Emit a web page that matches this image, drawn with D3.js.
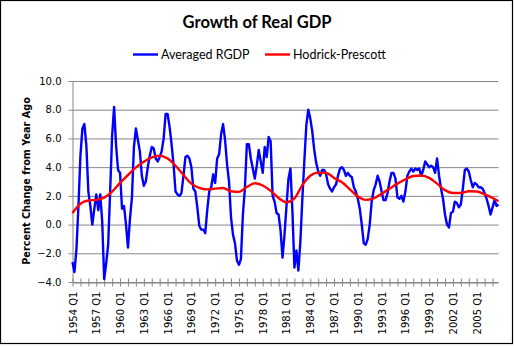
<!DOCTYPE html>
<html>
<head>
<meta charset="utf-8">
<script src="https://cdn.jsdelivr.net/npm/d3@7"></script>
<style>
  html, body { margin: 0; padding: 0; background: #fff; }
  svg { display: block; }
</style>
</head>
<body>
<div id="chart"></div>
<script>
// ----------------------------
// Data
// quarterly, 1954 Q1 .. 2007 Q4
// ----------------------------
var firstYear = 1954, lastYear = 2007;
var quarters = [];
for (var yr = firstYear; yr <= lastYear; yr++)
  for (var q = 1; q <= 4; q++) quarters.push(yr + " Q" + q);

// Averaged RGDP, percent change from year ago
var rgdp = [
  -2.6, -3.3, -1.7, 1.3, 4.8, 6.7, 7.0, 5.5,      // 1954-55
  2.3, 1.3, 0.0, 1.1, 2.1, 1.0, 2.1, 0.2,         // 1956-57
  -3.8, -2.7, -1.4, 2.3, 6.2, 8.2, 5.5, 3.8,      // 1958-59
  3.6, 1.1, 1.3, 0.0, -1.6, 0.4, 1.9, 5.4,        // 1960-61
  6.7, 5.9, 5.1, 3.4, 2.7, 3.0, 4.0, 4.8,         // 1962-63
  5.4, 5.3, 4.6, 4.4, 4.7, 5.1, 6.0, 7.7,         // 1964-65
  7.7, 6.8, 5.6, 4.2, 2.3, 2.1, 2.0, 2.2,         // 1966-67
  3.4, 4.7, 4.8, 4.6, 4.0, 2.5, 2.3, 1.2,         // 1968-69
  -0.1, -0.35, -0.35, -0.6, 1.0, 2.3, 2.6, 3.5,   // 1970-71
  2.9, 4.6, 4.9, 6.3, 7.0, 5.9, 4.2, 3.0,         // 1972-73
  0.5, -0.7, -1.3, -2.5, -2.8, -2.4, 0.7, 2.5,    // 1974-75
  5.6, 5.6, 4.6, 3.9, 3.2, 4.1, 5.2, 4.4,         // 1976-77
  3.6, 5.4, 4.7, 6.1, 5.8, 2.0, 1.6, 0.8,         // 1978-79
  0.7, -0.4, -2.3, -0.7, 1.3, 3.2, 3.9, 0.9,      // 1980-81
  -3.0, -1.8, -3.2, -1.2, 1.8, 4.4, 6.9, 8.0,     // 1982-83
  7.4, 6.5, 5.2, 4.3, 3.7, 3.4, 3.8, 3.8,         // 1984-85
  3.5, 2.8, 2.5, 2.3, 2.6, 2.8, 3.4, 3.9,         // 1986-87
  4.0, 3.8, 3.4, 3.6, 3.4, 3.3, 2.6, 2.3,         // 1988-89
  1.8, 1.1, 0.0, -1.3, -1.4, -1.0, 0.0, 1.6,      // 1990-91
  2.4, 2.8, 3.4, 3.0, 2.3, 1.7, 1.7, 2.2,         // 1992-93
  3.0, 3.6, 3.6, 3.2, 1.9, 1.8, 2.0, 1.6,         // 1994-95
  2.3, 3.4, 3.7, 3.9, 3.7, 3.9, 3.8, 3.9,         // 1996-97
  3.4, 3.8, 4.4, 4.2, 4.0, 4.1, 4.0, 3.6,         // 1998-99
  4.6, 3.4, 2.5, 1.8, 0.7, 0.0, -0.2, 0.8,        // 2000-01
  0.9, 1.6, 1.5, 1.2, 1.4, 2.5, 3.8, 3.9,         // 2002-03
  3.7, 3.1, 2.6, 2.9, 2.8, 2.6, 2.6, 2.5,         // 2004-05
  2.2, 1.8, 1.3, 0.7, 1.2, 1.7, 1.3, 1.4          // 2006-07
];

// Hodrick-Prescott trend, read at each Q1 (1954..2007) plus 2007 Q4
var hpQuarters = quarters.filter(function(d) { return d.endsWith("Q1"); }).concat(["2007 Q4"]);
var hpValues = [
  0.8, 1.45, 1.68, 1.72, 1.88, 2.3, 2.9, 3.45, 3.98, 4.38,
  4.68, 4.8, 4.6, 4.1, 3.45, 2.85, 2.55, 2.45, 2.5, 2.55,
  2.32, 2.28, 2.62, 2.88, 2.72, 2.35, 1.85, 1.55, 1.82, 2.75,
  3.4, 3.62, 3.6, 3.25, 2.95, 2.45, 1.95, 1.72, 1.82, 2.15,
  2.5, 2.85, 3.15, 3.38, 3.42, 3.25, 2.85, 2.4, 2.2, 2.2,
  2.32, 2.3, 2.1, 1.85, 1.62
];

var yTicks = [-4, -2, 0, 2, 4, 6, 8, 10];
var xLabelEvery = 12; // label every 3 years, tick every year

var seriesNames = ["Averaged RGDP", "Hodrick-Prescott"];
var seriesColors = ["#0000ff", "#ff0000"];

// ----------------------------
// Figure setup
// ----------------------------
var Vis = {};
Vis.width = 514;
Vis.height = 346;
Vis.left = 72.5;
Vis.right = 498.5;
Vis.top = 81;
Vis.bottom = 282;
Vis.gridColor = "#868686";

Vis.svg = d3.select("#chart").append("svg")
  .attr("width", Vis.width)
  .attr("height", Vis.height);

Vis.svg.append("rect")
  .attr("x", 0.5).attr("y", 0.5)
  .attr("width", 512).attr("height", 343)
  .attr("fill", "#fff")
  .attr("stroke", "#000")
  .attr("stroke-width", 1.2);

Vis.x = d3.scalePoint().domain(quarters).range([Vis.left, Vis.right]);
Vis.y = d3.scaleLinear().domain([-4, 10]).range([Vis.bottom, Vis.top]);

// gridlines
Vis.svg.append("g").selectAll("line")
  .data(yTicks)
  .enter().append("line")
  .attr("x1", Vis.left).attr("x2", Vis.right)
  .attr("y1", d => Vis.y(d) + 0.5).attr("y2", d => Vis.y(d) + 0.5)
  .attr("stroke", Vis.gridColor)
  .attr("stroke-width", 1);

// y axis
var yAxis = Vis.svg.append("g")
  .attr("transform", "translate(" + Vis.left + ",0)")
  .call(d3.axisLeft(Vis.y).tickValues(yTicks).tickFormat(d3.format(".1f"))
    .tickSize(4).tickSizeOuter(0).tickPadding(7));
yAxis.selectAll("path, line").attr("stroke", Vis.gridColor);
yAxis.selectAll("text")
  .attr("font-family", "DejaVu Sans, Verdana, sans-serif")
  .attr("font-size", 10)
  .attr("fill", "#000");

// x axis
var xAxis = Vis.svg.append("g")
  .attr("transform", "translate(0," + (Vis.bottom + 0.5) + ")")
  .call(d3.axisBottom(Vis.x)
    .tickValues(quarters.filter((d, i) => i % 4 == 0))
    .tickFormat((d, i) => (i * 4) % xLabelEvery == 0 ? d : "")
    .tickSize(4).tickSizeOuter(0));
xAxis.selectAll("path, line").attr("stroke", Vis.gridColor);
xAxis.selectAll("line").attr("y1", -4);
xAxis.selectAll("text")
  .attr("font-family", "DejaVu Sans, Verdana, sans-serif")
  .attr("font-size", 10)
  .attr("fill", "#000")
  .attr("transform", "rotate(-90)")
  .attr("text-anchor", "end")
  .attr("x", -9)
  .attr("y", 0)
  .attr("dy", "0.35em");

// ----------------------------
// Lines
// ----------------------------
Vis.svg.append("path")
  .datum(rgdp)
  .attr("fill", "none")
  .attr("stroke", seriesColors[0])
  .attr("stroke-width", 2.4)
  .attr("stroke-linejoin", "round")
  .attr("d", d3.line()
    .x((d, i) => Vis.x(quarters[i]))
    .y(d => Vis.y(d)));

Vis.svg.append("path")
  .datum(hpValues)
  .attr("fill", "none")
  .attr("stroke", seriesColors[1])
  .attr("stroke-width", 2.4)
  .attr("d", d3.line()
    .curve(d3.curveMonotoneX)
    .x((d, i) => Vis.x(hpQuarters[i]))
    .y(d => Vis.y(d)));

// ----------------------------
// Title, legend, axis title
// ----------------------------
Vis.svg.append("text")
  .attr("x", 257).attr("y", 28)
  .attr("text-anchor", "middle")
  .attr("font-family", "Lato, Open Sans, sans-serif")
  .attr("font-weight", "bold")
  .attr("font-size", 16.5)
  .text("Growth of Real GDP");

var legendX = [133, 265];
var legend = Vis.svg.append("g").selectAll("g")
  .data(seriesNames)
  .enter().append("g")
  .attr("transform", (d, i) => "translate(" + legendX[i] + ",54.5)");
legend.append("line")
  .attr("x1", 0).attr("x2", 25)
  .attr("stroke", (d, i) => seriesColors[i])
  .attr("stroke-width", 2.4);
legend.append("text")
  .attr("x", 28).attr("dy", "0.35em")
  .attr("font-family", "Lato, Open Sans, sans-serif")
  .attr("font-size", 12.5)
  .text(d => d);

Vis.svg.append("text")
  .attr("transform", "translate(30,181) rotate(-90)")
  .attr("text-anchor", "middle")
  .attr("font-family", "DejaVu Sans, Verdana, sans-serif")
  .attr("font-weight", "bold")
  .attr("font-size", 9.7)
  .text("Percent Change from Year Ago");
</script>
</body>
</html>
